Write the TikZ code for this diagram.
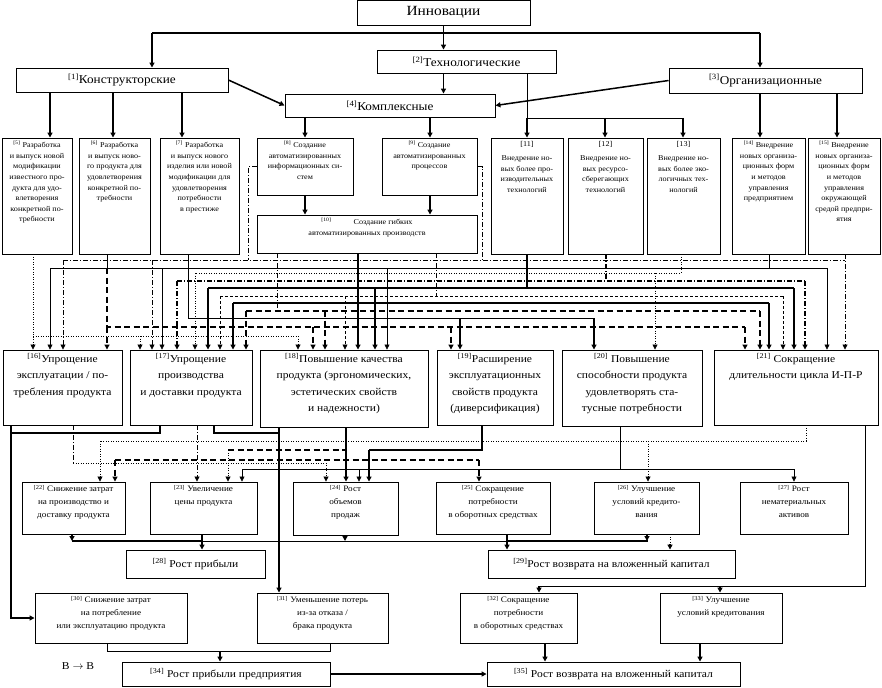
\documentclass[tikz,border=0pt]{standalone}
\usepackage{fontspec}
\setmainfont{Liberation Serif}[FakeStretch=1.1]
\usetikzlibrary{arrows.meta,positioning,shadows}

\newcommand{\boxno}[1]{\textsuperscript{[#1]}}
\newcommand{\bx}[4][t]{\parbox[c][#3pt][#1]{#2pt}{\vspace*{3pt}\centering #4\par}}
\newcommand{\fA}{\fontsize{14}{16}\selectfont}
\newcommand{\fB}{\fontsize{12}{14}\selectfont}
\newcommand{\fC}{\fontsize{7.4}{10.6}\selectfont}
\newcommand{\fD}{\fontsize{10.5}{16.5}\selectfont}
\newcommand{\fE}{\fontsize{8.3}{12.8}\selectfont}
\newcommand{\fF}{\fontsize{10.5}{13}\selectfont}

\tikzset{
    box/.style={
        draw, line width=0.9pt, fill=white, inner sep=0pt,
        drop shadow={shadow xshift=1.2pt, shadow yshift=-1.2pt, fill=black, opacity=1}
    },
    ptr/.style={-{Triangle[length=5pt,width=5pt]}},
    lnk/.style={line width=1.5pt},
    sol/.style={line width=0.6pt},
    solb/.style={line width=1.3pt},
    dshl/.style={line width=1.1pt, dash pattern=on 6pt off 3.5pt},
    dshs/.style={line width=0.7pt, dash pattern=on 3pt off 2pt},
    dshd/.style={line width=0.8pt, dash pattern=on 5pt off 2pt on 1pt off 2pt},
    dots/.style={line width=0.8pt, dash pattern=on 1pt off 1.5pt}
}

\begin{document}
\begin{tikzpicture}[x=1pt, y=-1pt]
        \useasboundingbox (0,0) rectangle (882,687);

        % kinds of innovations
        \node[box, minimum width=173, minimum height=25, font=\fA] (innov) at (443.5,12.5) {Инновации};
        \node[box, minimum width=179, minimum height=23, font=\fB] (tech) at (466.5,61.5) {\boxno{2}Технологические};
        \node[box, minimum width=212, minimum height=24, font=\fB] (konstr) at (122,80) {\boxno{1}Конструкторские};
        \node[box, minimum width=193, minimum height=25, font=\fB] (org) at (765.5,80.5) {\boxno{3}Организационные};
        \node[box, minimum width=210, minimum height=23, font=\fB] (kompl) at (390,105.5) {\boxno{4}Комплексные};

        % second level
        \node[box, font=\fC] (b5) at (37,196) {\bx{70}{116}{\boxno{5} Разработка\\ и выпуск новой\\ модификации\\ известного про-\\дукта для удо-\\влетворения\\ конкретной по-\\требности}};
        \node[box, font=\fC] (b6) at (114.5,196) {\bx{71}{116}{\boxno{6} Разработка\\ и выпуск ново-\\го продукта для\\ удовлетворения\\ конкретной по-\\требности}};
        \node[box, font=\fC] (b7) at (199.5,196) {\bx{79}{116}{\boxno{7} Разработка\\ и выпуск нового\\ изделия или новой\\ модификации для\\ удовлетворения\\ потребности\\ в престиже}};
        \node[box, font=\fC] (b8) at (305,166.5) {\bx{96}{57}{\boxno{8} Создание\\ автоматизированных\\ информационных си-\\стем}};
        \node[box, font=\fC] (b9) at (429.5,166.5) {\bx{95}{57}{\boxno{9} Создание\\ автоматизированных\\ процессов}};
        \node[box, font=\fC] (b10) at (367,234) {\bx{220}{38}{\boxno{10}\qquad\quad Создание гибких\\ автоматизированных производств}};
        \node[box, font=\fC] (b11) at (527,196) {\bx{72}{116}{[11]\\[4pt] Внедрение но-\\вых более про-\\изводительных\\ технологий}};
        \node[box, font=\fC] (b12) at (605.5,196) {\bx{75}{116}{[12]\\[4pt] Внедрение но-\\вых ресурсо-\\сберегающих\\ технологий}};
        \node[box, font=\fC] (b13) at (683.5,196) {\bx{73}{116}{[13]\\[4pt] Внедрение но-\\вых более эко-\\логичных тех-\\нологий}};
        \node[box, font=\fC] (b14) at (768.5,196) {\bx{73}{116}{\boxno{14} Внедрение\\ новых организа-\\ционных форм\\ и методов\\ управления\\ предприятием}};
        \node[box, font=\fC] (b15) at (844,196) {\bx{72}{116}{\boxno{15} Внедрение\\ новых организа-\\ционных форм\\ и методов\\ управления\\ окружающей\\ средой предпри-\\ятия}};

        % effects on the product
        \node[box, font=\fD] (b16) at (62.5,387.5) {\bx{119}{75}{\boxno{16}Упрощение\\ эксплуатации / по-\\требления продукта}};
        \node[box, font=\fD] (b17) at (191,387.5) {\bx{122}{75}{\boxno{17}Упрощение\\ производства\\ и доставки продукта}};
        \node[box, font=\fD] (b18) at (344,388.5) {\bx{168}{77}{\boxno{18}Повышение качества\\ продукта (эргономических,\\ эстетических свойств\\ и надежности)}};
        \node[box, font=\fD] (b19) at (495,387.5) {\bx{116}{75}{\boxno{19}Расширение\\ эксплуатационных\\ свойств продукта\\ (диверсификация)}};
        \node[box, font=\fD] (b20) at (632,388) {\bx{140}{76}{\boxno{20} Повышение\\ способности продукта\\ удовлетворять ста-\\тусные потребности}};
        \node[box, font=\fD] (b21) at (796,387.5) {\bx{164}{75}{\boxno{21} Сокращение\\ длительности цикла И-П-Р}};

        % effects on the firm
        \node[box, font=\fE] (b22) at (73.5,508) {\bx{103}{52}{\boxno{22} Снижение затрат\\ на производство и\\ доставку продукта}};
        \node[box, font=\fE] (b23) at (203.5,508) {\bx{107}{52}{\boxno{23} Увеличение\\ цены продукта}};
        \node[box, font=\fE] (b24) at (345.5,508.5) {\bx{105}{53}{\boxno{24} Рост\\ объемов\\ продаж}};
        \node[box, font=\fE] (b25) at (493,508) {\bx{114}{52}{\boxno{25} Сокращение\\ потребности\\ в оборотных средствах}};
        \node[box, font=\fE] (b26) at (646.5,508) {\bx{105}{52}{\boxno{26} Улучшение\\ условий кредито-\\вания}};
        \node[box, font=\fE] (b27) at (794,508) {\bx{108}{52}{\boxno{27} Рост\\ нематериальных\\ активов}};
        \node[box, minimum width=139, minimum height=28, font=\fF] (b28) at (195.5,564) {\boxno{28} Рост прибыли};
        \node[box, minimum width=247, minimum height=28, font=\fF] (b29) at (611.5,564) {\boxno{29}Рост возврата на вложенный капитал};
        \node[box, font=\fE] (b30) at (111,618) {\bx{152}{50}{\boxno{30} Снижение затрат\\ на потребление\\ или эксплуатацию продукта}};
        \node[box, font=\fE] (b31) at (322.5,618) {\bx{131}{50}{\boxno{31} Уменьшение потерь\\ из-за отказа /\\ брака продукта}};
        \node[box, font=\fE] (b32) at (518.5,618) {\bx{117}{50}{\boxno{32} Сокращение\\ потребности\\ в оборотных средствах}};
        \node[box, font=\fE] (b33) at (721,618) {\bx{122}{50}{\boxno{33} Улучшение\\ условий кредитования}};
        \node[box, minimum width=208, minimum height=24, font=\fF] (b34) at (226,674) {\boxno{34} Рост прибыли предприятия};
        \node[box, minimum width=253, minimum height=24, font=\fF] (b35) at (613.5,674) {\boxno{35} Рост возврата на вложенный капитал};
        \node[font=\fF] (bb) at (78,666) {В $\rightarrow$ В};

        % top connectors
        \draw[lnk,ptr] (innov.south) -- (innov.south |- tech.north);
        \draw[lnk] (innov.south |- 0,33) -- (152,33);
        \draw[lnk] (innov.south |- 0,33) -- (760,33);
        \draw[lnk,ptr] (152,33) -- (152,0 |- konstr.north);
        \draw[lnk,ptr] (760,33) -- (760,0 |- org.north);
        \draw[lnk,ptr] (konstr.east) -- (kompl.west);
        \draw[lnk,ptr] (org.west) -- (kompl.east);
        \draw[lnk,ptr] (tech.south -| innov.south) -- (kompl.north -| innov.south);

        % down to the second level
        \foreach \x/\t in {50/b5, 113/b6, 182/b7}
        {
            \draw[lnk,ptr] (\x,0 |- konstr.south) -- (\x,0 |- \t.north);
        }
        \foreach \x/\t in {305/b8, 430/b9}
        {
            \draw[lnk,ptr] (\x,0 |- kompl.south) -- (\x,0 |- \t.north);
            \draw[lnk,ptr] (\x,0 |- \t.south) -- (\x,0 |- b10.north);
        }
        \draw[sol] (tech.south -| b11) |- (683,118);
        \foreach \x/\t in {527/b11, 605/b12, 683/b13}
        {
            \draw[lnk,ptr] (\x,118) -- (\x,0 |- \t.north);
        }
        \foreach \x/\t in {760/b14, 837/b15}
        {
            \draw[lnk,ptr] (\x,0 |- org.south) -- (\x,0 |- \t.north);
        }

        % dash-dot bus from [8], [9], [15]
        \draw[dshd] (b8.west) -| (248,260);
        \draw[dshd] (b9.east) -| (482,260);
        \draw[dshd] (63,260) -- (845,260);
        \draw[dshd,ptr] (b15.south -| 845,0) -- (b21.north -| 845,0);
        \foreach \x/\t in {63/b16, 152/b17}
        {
            \draw[dshd,ptr] (\x,260) -- (\t.north -| \x,0);
        }

        % solid bus from [14]
        \draw[sol] (b14.south -| 769,0) -- (769,268);
        \draw[sol] (50,268) -- (827,268);
        \foreach \x/\t in {50/b16, 162/b17, 387/b18, 827/b21}
        {
            \draw[sol,ptr] (\x,268) -- (\t.north -| \x,0);
        }

        % dotted bus from [13]
        \draw[dots] (b13.south -| 681,0) |- (195,273);
        \foreach \x/\t in {195/b17, 655/b20}
        {
            \draw[dots,ptr] (\x,273) -- (\t.north -| \x,0);
        }

        % dash-dot bus from [12]
        \draw[dshd,line width=1.1pt] (b12.south -| 606,0) -- (606,281);
        \draw[dshd,line width=1.1pt] (177,281) -- (805,281);
        \foreach \x/\t in {177/b17, 805/b21}
        {
            \draw[dshd,line width=1.1pt,ptr] (\x,281) -- (\t.north -| \x,0);
        }

        % thick bus from [11]
        \draw[solb] (b11.south) -- (b11.south |- 0,288);
        \draw[solb] (208,288) -- (794,288);
        \foreach \x/\t in {208/b17, 375/b18, 794/b21}
        {
            \draw[solb,ptr] (\x,288) -- (\t.north -| \x,0);
        }

        % buses from [10]
        \draw[dshd] (b10.south -| 436,0) -- (436,296);
        \draw[dshs] (220,296) -- (783,296);
        \foreach \x/\t in {220/b17, 345/b18, 783/b21}
        {
            \draw[dshs,ptr] (\x,296) -- (\t.north -| \x,0);
        }
        \draw[solb,ptr] (b10.south -| 358,0) -- (b18.north -| 358,0);
        \draw[solb] (233,303) -- (769,303);
        \foreach \x/\t in {233/b17, 769/b21}
        {
            \draw[solb,ptr] (\x,303) -- (\t.north -| \x,0);
        }
        \draw[dshd] (b10.south -| 277,0) -- (277,311);
        \draw[dshl] (246,311) -- (760,311);
        \foreach \x/\t in {246/b17, 325/b18, 760/b21}
        {
            \draw[dshl,ptr] (\x,311) -- (\t.north -| \x,0);
        }

        % solid bus from [7]
        \draw[sol] (b7.south -| 188,0) |- (594,318);
        \foreach \x/\t in {460/b19, 594/b20}
        {
            \draw[solb,ptr] (\x,318) -- (\t.north -| \x,0);
        }

        % dashed bus from [6]
        \draw[sol] (b6.south -| 107,0) -- (107,268);
        \draw[dshl] (107,268) |- (745,327);
        \foreach \x/\t in {107/b16, 313/b18, 451/b19, 745/b21}
        {
            \draw[dshl,ptr] (\x,327) -- (\t.north -| \x,0);
        }

        % dotted bus from [5]
        \draw[dots,ptr] (b5.south -| 33,0) -- (b16.north -| 33,0);
        \draw[dots] (33,336) -- (298,336);
        \foreach \x/\t in {140/b17, 298/b18}
        {
            \draw[dots,ptr] (\x,336) -- (\t.north -| \x,0);
        }

        % from the product to the firm
        \draw[solb,ptr] (b16.south -| 11,0) |- (b30.west);
        \draw[solb] (b17.south -| 160,0) |- (11,433);
        \draw[solb] (b17.south -| 214,0) |- (279,433);
        \draw[solb,ptr] (b18.south -| 279,0) -- (b31.north -| 279,0);
        \draw[dshd] (b16.south -| 73,0) -- (73,463);
        \draw[dots,ptr] (73,463) -| (b24.north -| 326,0);
        \draw[dshd,ptr] (b17.south -| 197,0) -- (b23.north -| 197,0);
        \draw[dots] (b21.south -| 806,0) |- (100,441);
        \foreach \x/\t in {100/b22, 648/b26}
        {
            \draw[dots,ptr] (\x,441) -- (\t.north -| \x,0);
        }
        \draw[solb,ptr] (b18.south -| 346,0) -- (b24.north -| 346,0);
        \draw[dshl] (228,450) -- (346,450);
        \draw[dots,ptr] (228,450) -- (b23.north -| 228,0);
        \draw[dshl] (115,460) -- (479,460);
        \foreach \x/\t in {115/b22, 479/b25}
        {
            \draw[dshl,ptr] (\x,460) -- (\t.north -| \x,0);
        }
        \draw[solb] (b19.south -| 482,0) |- (369,450);
        \draw[solb,ptr] (369,450) -- (b24.north -| 369,0);
        \draw[sol] (b20.south -| 620,0) -- (620,469);
        \draw[sol] (242,469) -- (794,469);
        \foreach \x/\t in {242/b23, 359/b24, 794/b27}
        {
            \draw[sol,ptr] (\x,469) -- (\t.north -| \x,0);
        }
        \draw[sol] (b21.south -| 865,0) |- (539,586);
        \foreach \x/\t in {539/b32, 720/b33}
        {
            \draw[solb,ptr] (\x,586) -- (\t.north -| \x,0);
        }

        % to profit and return on capital
        \draw[sol] (72,541) -- (648,541);
        \draw[solb] (72,541) -- (202,541);
        \draw[solb] (507,541) -- (648,541);
        \foreach \x/\t in {72/b22, 345/b24, 647/b26}
        {
            \draw[solb,ptr] (\t.south -| \x,0) -- (\x,541);
        }
        \draw[solb,ptr] (b23.south -| 202,0) -- (b28.north -| 202,0);
        \draw[solb,ptr] (b25.south -| 507,0) -- (b29.north -| 507,0);
        \draw[dots] (b26.south -| 670,0) -- (670,544);
        \draw[solb,ptr] (670,544) -- (b29.north -| 670,0);

        % bottom
        \draw[sol] (b30.south -| 107,0) |- (330,651) -- (b31.south -| 330,0);
        \draw[solb,ptr] (220,651) -- (b34.north -| 220,0);
        \draw[solb,ptr] (b32.south -| 545,0) -- (b35.north -| 545,0);
        \draw[solb,ptr] (b33.south -| 700,0) -- (b35.north -| 700,0);
        \draw[lnk,ptr] (b34.east) -- (b35.west);
    \end{tikzpicture}
\end{document}
